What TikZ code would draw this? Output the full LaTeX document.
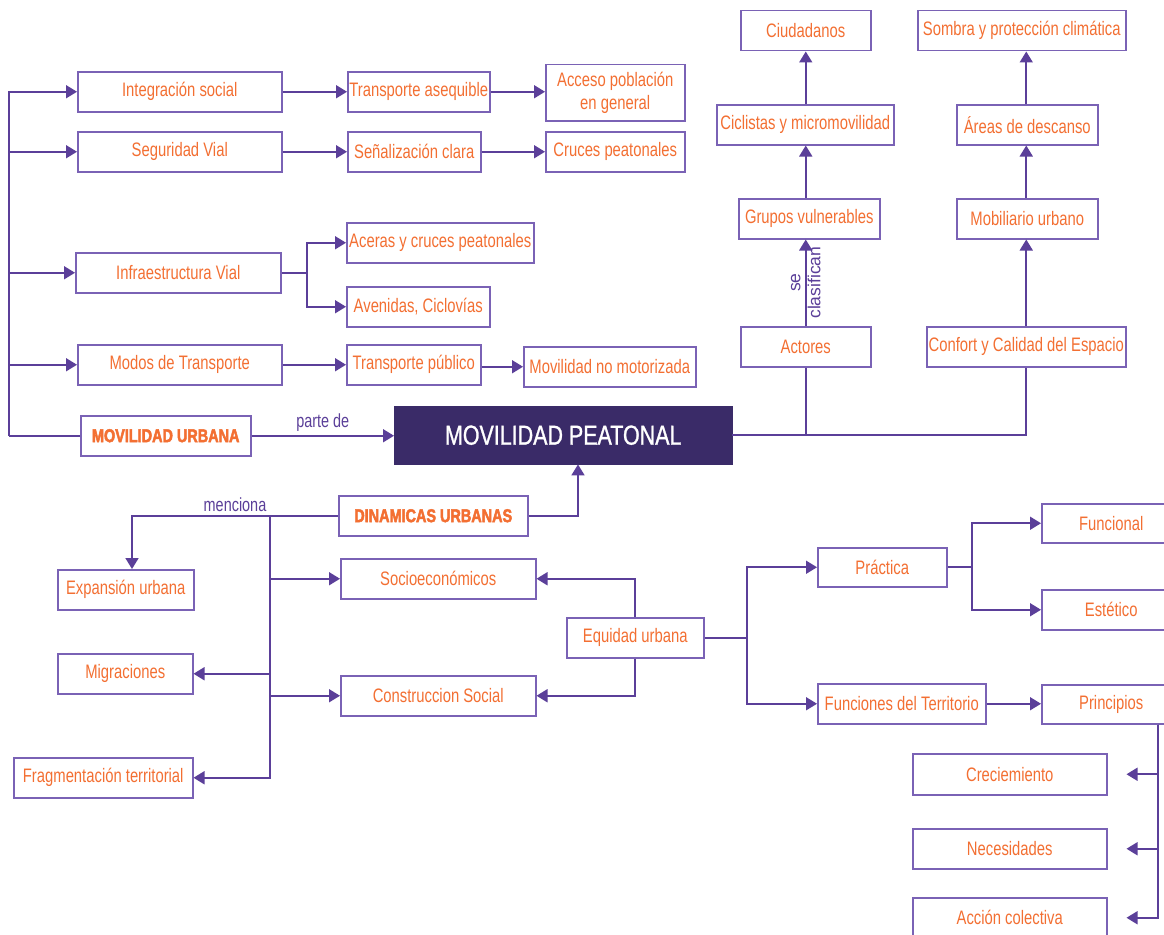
\documentclass[tikz,border=0pt]{standalone}
\usepackage{fontspec}
\setmainfont{Liberation Sans}[FakeStretch=0.76]
\newfontfamily\headfont{Liberation Sans}[FakeStretch=0.78, BoldFeatures={FakeBold=2.5}]
\newfontfamily\titlefont{Liberation Sans}[FakeStretch=0.78, FakeBold=1]
\newfontfamily\plainfont{Liberation Sans}
\usetikzlibrary{arrows.meta}

\definecolor{ink}{HTML}{F36F32}
\definecolor{boxline}{HTML}{7A62B5}
\definecolor{wire}{HTML}{5B3F99}
\definecolor{core}{HTML}{3A2B68}

% box with its top-left corner at (#3,#4) and bottom-right corner at (#5,#6)
\newcommand\cbox[7][]{%
  \node[box,#1,minimum width={(#5-#3)*1pt},minimum height={(#6-#4)*1pt}] (#2) at (#3,#4) {#7};}

\begin{document}
\begin{tikzpicture}[x=1pt,y=-1pt,
  box/.style={draw=boxline, line width=1.5pt, text=ink, fill=white,
    font=\fontsize{19.5}{23}\selectfont, inner sep=1pt, anchor=north west, align=center},
  hd/.style={font=\headfont\bfseries\fontsize{18.5}{22}\selectfont},
  ln/.style={draw=wire, line width=1.7pt},
  arr/.style={ln, -{Triangle[length=11pt,width=13pt]}},
  lbl/.style={text=wire, font=\fontsize{19}{22}\selectfont, inner sep=1pt}]

\useasboundingbox (0,0) rectangle (1164,934);
\clip (0,0) rectangle (1164,934);
\fill[white] (0,0) rectangle (1164,934);

% ---- upper left: urban mobility branches
\cbox{integ}{77}{71}{281}{111}{Integración social}
\cbox{segv}{77}{131}{281}{171}{Seguridad Vial}
\cbox{tasq}{347}{71}{489}{111}{Transporte asequible}
\cbox{acceso}{545}{64}{684}{120}{Acceso población\\en general}
\cbox{senal}{347}{131}{480}{171}{Señalización clara}
\cbox{cruces}{545}{131}{684}{171}{Cruces peatonales}
\cbox{aceras}{346}{222}{533}{262}{Aceras y cruces peatonales}
\cbox{aven}{346}{286}{489}{326}{Avenidas, Ciclovías}
\cbox{infra}{75}{252}{280}{292}{Infraestructura Vial}
\cbox{modos}{77}{344}{281}{384}{Modos de Transporte}
\cbox{tpub}{346}{344}{480}{384}{Transporte público}
\cbox{mnm}{523}{346}{695}{386}{Movilidad no motorizada}
\cbox[hd]{mu}{80}{415}{250}{455}{MOVILIDAD URBANA}

% ---- central concept
\node[draw=core, fill=core, text=white, anchor=north west, inner sep=0pt,
  minimum width=338pt, minimum height=58pt,
  font=\titlefont\fontsize{27.5}{30}\selectfont] (mp) at (394,406) {MOVILIDAD PEATONAL};

% ---- upper right columns
\cbox{ciud}{740}{10}{870}{50}{Ciudadanos}
\cbox{cicl}{716}{104}{893}{144}{Ciclistas y micromovilidad}
\cbox{grupos}{738}{198}{879}{238}{Grupos vulnerables}
\cbox{actores}{740}{326}{870}{366}{Actores}
\cbox{sombra}{917}{10}{1125}{50}{Sombra y protección climática}
\cbox{areas}{956}{104}{1097}{144}{Áreas de descanso}
\cbox{mob}{956}{198}{1097}{238}{Mobiliario urbano}
\cbox{confort}{926}{326}{1125}{366}{Confort y Calidad del Espacio}

% ---- lower part: urban dynamics
\cbox[hd]{din}{338}{495}{527}{535}{DINAMICAS URBANAS}
\cbox{exp}{57}{569}{193}{609}{Expansión urbana}
\cbox{migr}{57}{653}{192}{693}{Migraciones}
\cbox{frag}{13}{757}{192}{797}{Fragmentación territorial}
\cbox{socio}{340}{558}{535}{598}{Socioeconómicos}
\cbox{cons}{340}{675}{535}{715}{Construccion Social}
\cbox{equ}{566}{617}{703}{657}{Equidad urbana}
\cbox{prac}{817}{547}{946}{586}{Práctica}
\cbox{funt}{817}{683}{985}{723}{Funciones del Territorio}
\cbox{funcional}{1041}{503}{1180}{542}{Funcional}
\cbox{estet}{1041}{589}{1180}{629}{Estético}
\cbox{prin}{1041}{684}{1180}{723}{Principios}
\cbox{crec}{912}{753}{1106}{794}{Creciemiento}
\cbox{nec}{912}{828}{1106}{868}{Necesidades}
\cbox{accion}{912}{897}{1106}{937}{Acción colectiva}

% ---- junction points
\coordinate (lb) at (9,435);
\coordinate (isplit) at (307,272);
\coordinate (dbus) at (270,515);
\coordinate (dexp) at (132,515);
\coordinate (dup) at (578,515);
\coordinate (esplit) at (747,637);
\coordinate (psplit) at (972,566.5);
\coordinate (pdown) at (1158,919);

% ---- connectors, upper left
\draw[ln] (mu.west) -- (mu.west -| lb);
\draw[arr] (mu.west -| lb) |- (integ.west);
\draw[arr] (mu.west -| lb) |- (segv.west);
\draw[arr] (mu.west -| lb) |- (infra.west);
\draw[arr] (mu.west -| lb) |- (modos.west);
\draw[arr] (integ.east) -- (integ.east -| tasq.west);
\draw[arr] (tasq.east) -- (tasq.east -| acceso.west);
\draw[arr] (segv.east) -- (segv.east -| senal.west);
\draw[arr] (senal.east) -- (senal.east -| cruces.west);
\draw[ln] (infra.east) -- (infra.east -| isplit);
\draw[arr] (infra.east -| isplit) |- (aceras.west);
\draw[arr] (infra.east -| isplit) |- (aven.west);
\draw[arr] (modos.east) -- (modos.east -| tpub.west);
\draw[arr] (tpub.east |- mnm.west) -- (mnm.west);
\draw[arr] (mu.east) -- (mu.east -| mp.west) node[lbl, midway, above=2pt] {parte de};

% ---- connectors, upper right
\draw[ln] (mp.east) -| (confort.south);
\draw[ln] (actores.south) -- (actores.south |- mp.east);
\draw[arr] (actores.north) -- (actores.north |- grupos.south)
  node[midway, rotate=90, align=center, text=wire, inner sep=0pt,
       font=\plainfont\fontsize{17.5}{20}\selectfont] {se\\clasifican};
\draw[arr] (actores.north |- grupos.north) -- (actores.north |- cicl.south);
\draw[arr] (actores.north |- cicl.north) -- (actores.north |- ciud.south);
\draw[arr] (confort.north) -- (confort.north |- mob.south);
\draw[arr] (confort.north |- mob.north) -- (confort.north |- areas.south);
\draw[arr] (confort.north |- areas.north) -- (confort.north |- sombra.south);

% ---- connectors, lower part
\draw[arr] (din.east) -- (din.east -| dup) -- (dup |- mp.south);
\draw[arr] (din.west) -- (din.west -| dexp) node[lbl, midway, above=2pt] {menciona} -- (dexp |- exp.north);
\draw[arr] (dbus) |- (socio.west);
\draw[arr] (dbus) |- (cons.west);
\draw[arr] (dbus) |- (migr.east);
\draw[arr] (dbus) |- (frag.east);
\draw[arr] (equ.north) |- (socio.east);
\draw[arr] (equ.south) |- (cons.east);
\draw[ln] (equ.east) -- (equ.east -| esplit);
\draw[arr] (equ.east -| esplit) |- (prac.west);
\draw[arr] (equ.east -| esplit) |- (funt.west);
\draw[ln] (prac.east) -- (prac.east -| psplit);
\draw[arr] (prac.east -| psplit) |- (funcional.west);
\draw[arr] (prac.east -| psplit) |- (estet.west);
\draw[arr] (funt.east) -- (funt.east -| prin.west);
\draw[ln] (prin.south -| pdown) -- (pdown);
\draw[arr, shorten >=19pt] (prin.south -| pdown) |- (crec.east);
\draw[arr, shorten >=19pt] (prin.south -| pdown) |- (nec.east);
\draw[arr, shorten >=19pt] (prin.south -| pdown) |- (accion.east);
\end{tikzpicture}
\end{document}
